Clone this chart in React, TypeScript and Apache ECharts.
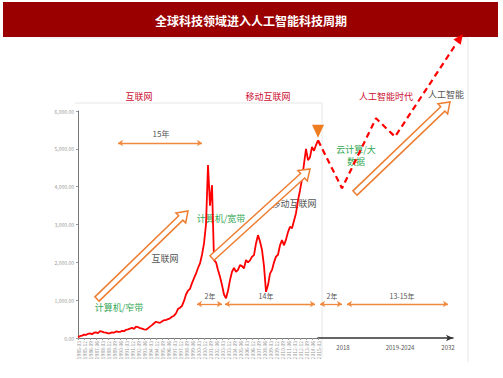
import React, { useEffect, useRef } from "react";
import * as echarts from "echarts";

const TITLE = "全球科技领域进入人工智能科技周期";
const FONT = "'Noto Sans CJK SC', 'Noto Sans', sans-serif";

// quarterly dates 1985-03 .. 2015-03
const dates: string[] = [];
for (let y = 1985; y <= 2015; y++) {
  for (const m of ["03", "06", "09", "12"]) dates.push(`${y}-${m}`);
}
const categories = dates.slice(0, 121);

const indexValues = [
  20, 50, 60, 90, 80, 110, 120, 100, 140, 150,
  130, 180, 170, 150, 140, 120, 125, 150, 140, 175,
  165, 160, 190, 180, 215, 230, 250, 270, 240, 300,
  290, 260, 250, 230, 220, 260, 300, 340, 390, 430,
  410, 400, 440, 470, 475, 500, 520, 560, 590, 650,
  770, 800, 850, 980, 1150, 1250, 1300, 1450, 1580, 1700,
  1850, 1970, 2200, 2500, 3000, 4570, 3500, 4040, 2060, 2000,
  1800, 1620, 1400, 1150, 1050, 1250, 1530, 1750, 1850, 1750,
  1800, 1930, 1900, 1840, 2060, 2000, 2050, 2150, 2190, 2500,
  2720, 2550, 2330, 1900, 1220, 1400, 1700, 1800, 2000, 2150,
  2200, 2450, 2590, 2450, 2600, 2800, 2940, 2900, 3100, 3300,
  3640, 3900, 4200, 4600, 5000, 4700, 4780, 5050, 4950, 5100,
  5224,
];

// forecast (dashed) path: position along the future axis, value
const forecastX = [0, 24, 58, 77, 142];
const forecastValues = [5224, 3957, 5807, 5321, 7930];

const futureTickPos = [25, 82, 130];
const futureTickLabels = ["2018", "2019-2024", "2032"];

const yFormat = (v: number) =>
  v.toLocaleString("en-US", { minimumFractionDigits: 2, maximumFractionDigits: 2 });

function hollowArrow(x1: number, y1: number, x2: number, y2: number) {
  const dx = x2 - x1, dy = y2 - y1;
  const len = Math.hypot(dx, dy);
  const ux = dx / len, uy = dy / len;
  const nx = -uy, ny = ux;
  const w = 3, hw = 7, hl = 10;
  const bx = x2 - ux * hl, by = y2 - uy * hl;
  return {
    type: "polygon",
    z: 5,
    shape: {
      points: [
        [x1 + nx * w, y1 + ny * w],
        [bx + nx * w, by + ny * w],
        [bx + nx * hw, by + ny * hw],
        [x2, y2],
        [bx - nx * hw, by - ny * hw],
        [bx - nx * w, by - ny * w],
        [x1 - nx * w, y1 - ny * w],
      ],
    },
    style: { fill: "#ffffff", stroke: "#ED7D31", lineWidth: 1.5 },
  };
}

function txt(text: string, x: number, y: number, fill: string, size: number, extra: any = {}) {
  return {
    type: "text",
    x,
    y,
    z: 1,
    style: {
      text,
      fill,
      font: `${extra.weight || "normal"} ${size}px ${FONT}`,
      align: "center",
      verticalAlign: "middle",
    },
  };
}

function fline(x1: number, y1: number, x2: number, y2: number, color = "#e6e6e6") {
  return {
    type: "line",
    z: 0,
    shape: { x1, y1, x2, y2 },
    style: { stroke: color, lineWidth: 1 },
  };
}

const spanColor = "#F0883E";
const spans: [number, number, number][] = [
  [118, 202, 143],
  [197, 222, 304],
  [225, 315, 304],
  [320, 342, 304],
  [347, 448, 304],
];

export default function App() {
  const ref = useRef<HTMLDivElement>(null);
  useEffect(() => {
    if (!ref.current) return;
    const chart = echarts.init(ref.current, undefined, { renderer: "svg" });
    const option: any = {
      animation: false,
      backgroundColor: "#ffffff",
      textStyle: { fontFamily: FONT },
      grid: [
        { left: 78, top: 111, width: 240, height: 227, containLabel: false },
        { left: 318, top: 111, width: 135, height: 227, containLabel: false },
      ],
      xAxis: [
        {
          gridIndex: 0,
          type: "category",
          boundaryGap: false,
          data: categories,
          axisLine: { lineStyle: { color: "#777", width: 1 } },
          axisTick: { show: true, length: 2, interval: 2, lineStyle: { color: "#999" } },
          axisLabel: {
            interval: 2,
            rotate: 90,
            fontSize: 5,
            color: "#999",
            margin: 3,
          },
        },
        {
          gridIndex: 1,
          type: "value",
          min: 0,
          max: 135,
          axisLine: {
            show: true,
            symbol: ["none", "arrow"],
            symbolSize: [5, 7],
            lineStyle: { color: "#333", width: 1.5 },
          },
          axisTick: { show: false },
          splitLine: { show: false },
          axisLabel: {
            customValues: futureTickPos,
            formatter: (v: number) => {
              const i = futureTickPos.indexOf(v);
              return i >= 0 ? futureTickLabels[i] : "";
            },
            fontSize: 6,
            color: "#555",
            margin: 6,
          },
        },
      ],
      yAxis: [
        {
          gridIndex: 0,
          type: "value",
          min: 0,
          max: 6000,
          interval: 1000,
          axisLine: { show: true, lineStyle: { color: "#777", width: 1 } },
          axisTick: { show: true, length: 2, lineStyle: { color: "#999" } },
          splitLine: { show: false },
          axisLabel: { fontSize: 5, color: "#999", margin: 4, formatter: yFormat },
        },
        {
          gridIndex: 1,
          type: "value",
          min: 0,
          max: 6000,
          show: false,
          splitLine: { show: false },
        },
      ],
      series: [
        {
          type: "line",
          xAxisIndex: 0,
          yAxisIndex: 0,
          data: indexValues,
          symbol: "none",
          z: 3,
          lineStyle: { color: "#ff0000", width: 1.8 },
          markPoint: {
            silent: true,
            data: [
              {
                coord: [categories.length - 1, indexValues[indexValues.length - 1]],
                symbol: "triangle",
                symbolRotate: 180,
                symbolSize: [12, 13],
                symbolOffset: [0, -9],
                itemStyle: { color: "#F07C20" },
                label: { show: false },
              },
            ],
          },
          markLine: {
            silent: true,
            symbol: ["arrow", "arrow"],
            symbolSize: 5,
            label: { show: false },
            lineStyle: { color: spanColor, width: 1.3, type: "solid" },
            data: spans.map(([a, b, y]) => [
              { x: a, y },
              { x: b, y },
            ]),
          },
        },
        {
          type: "line",
          xAxisIndex: 1,
          yAxisIndex: 1,
          clip: false,
          z: 3,
          data: forecastX.map((x, i) =>
            i === forecastX.length - 1
              ? {
                  value: [x, forecastValues[i]],
                  symbol: "triangle",
                  symbolSize: [9, 10],
                  symbolRotate: -36,
                  itemStyle: { color: "#ff0000" },
                }
              : { value: [x, forecastValues[i]], symbol: "none" }
          ),
          lineStyle: { color: "#ff0000", width: 2.2, type: [6, 4] },
        },
      ],
      graphic: [
        fline(468, 38, 468, 362),
        fline(322, 103, 322, 357),
        fline(75, 103, 322, 103),
        fline(40, 38, 468, 38),
        {
          type: "rect",
          z: 1,
          shape: { x: 3, y: 2, width: 495, height: 35 },
          style: { fill: "#9b0000" },
        },
        {
          type: "text",
          x: 251,
          y: 20,
          z: 2,
          style: {
            text: TITLE,
            fill: "#ffffff",
            font: `bold 12px ${FONT}`,
            align: "center",
            verticalAlign: "middle",
          },
        },
        txt("互联网", 139, 96, "#cc1133", 9),
        txt("移动互联网", 268, 96, "#cc1133", 9),
        txt("人工智能时代", 386, 96, "#cc1133", 9),
        txt("人工智能", 446, 94, "#555555", 9),
        txt("15年", 161, 133, "#555555", 8),
        txt("2年", 210, 296, "#555555", 7),
        txt("14年", 266, 296, "#555555", 7),
        txt("2年", 332, 296, "#555555", 7),
        txt("13-15年", 402, 296, "#555555", 7),
        txt("计算机/窄带", 119, 307, "#33a853", 9),
        txt("互联网", 165, 258, "#555555", 9),
        txt("计算机/宽带", 221, 218, "#33a853", 9),
        txt("移动互联网", 294, 203, "#555555", 9),
        txt("云计算/大", 356, 149, "#33a853", 9),
        txt("数据", 356, 161, "#33a853", 9),
        hollowArrow(97, 299, 188, 211),
        hollowArrow(212, 258, 310, 169),
        hollowArrow(355, 193, 450, 102),
      ],
    };
    chart.setOption(option);
    return () => chart.dispose();
  }, []);
  return (
    <div
      ref={ref}
      style={{ position: "fixed", left: 0, top: 0, width: 503, height: 378 }}
    />
  );
}
